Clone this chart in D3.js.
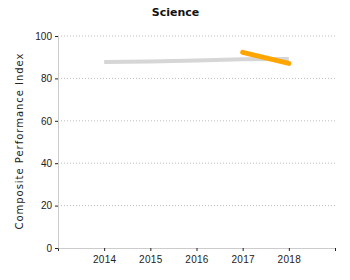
<!doctype html>
<html lang="en">
<head>
  <meta charset="utf-8">
  <title>Science</title>
  <style>
    body { margin: 0; background: #fff; }
    svg { font-family: "DejaVu Sans", Verdana, sans-serif; }
    .grid line { stroke: #bbb; stroke-dasharray: 1,2; }
    .axis path { stroke: #ccc; }
    .axis line { stroke: #222; }
    .axis text { fill: #222; font-size: 10px; }
  </style>
</head>
<body>
  <div id="chart"></div>
  <script src="https://cdn.jsdelivr.net/npm/d3@7"></script>
  <script>
(function(){

  var years = [2014, 2015, 2016, 2017, 2018];
  var schoolValues = [87.7, 88.0, 88.5, 89.0, 89.2];
  var subgroupYears = [2017, 2018];
  var subgroupValues = [92.3, 87.1];
  var yTicks = [0, 20, 40, 60, 80, 100];

  var width = 350, height = 280;
  var margin = {top: 36, right: 15, bottom: 32, left: 58};

  var svg = d3.select("#chart")
      .append("svg")
      .attr("width", width)
      .attr("height", height);

  var x = d3.scaleLinear().domain([2013, 2019]).range([margin.left, width - margin.right]);
  var y = d3.scaleLinear().domain([0, 100]).range([height - margin.bottom, margin.top]);

  svg.append("g")
      .attr("class", "grid")
      .selectAll("line")
      .data(yTicks.slice(1))
      .enter().append("line")
      .attr("x1", margin.left)
      .attr("x2", width - margin.right)
      .attr("y1", function(d) { return y(d); })
      .attr("y2", function(d) { return y(d); });

  svg.append("g")
      .attr("class", "axis")
      .attr("transform", "translate(0," + y(0) + ")")
      .call(d3.axisBottom(x)
        .tickValues([2013].concat(years, [2019]))
        .tickSize(3)
        .tickSizeOuter(0)
        .tickFormat(function(d) { return years.indexOf(d) >= 0 ? d : ""; }))
      .call(function(g) { g.selectAll("text").attr("dy", "0.9em").attr("letter-spacing", "0.3px"); });

  svg.append("g")
      .attr("class", "axis")
      .attr("transform", "translate(" + margin.left + ",0)")
      .call(d3.axisLeft(y).tickValues(yTicks).tickSize(3).tickSizeOuter(0));

  var line = d3.line()
      .x(function(d) { return x(d[0]); })
      .y(function(d) { return y(d[1]); });

  svg.append("path")
      .datum(d3.zip(years, schoolValues))
      .attr("fill", "none")
      .attr("stroke", "#d6d6d6")
      .attr("stroke-width", 4)
      .attr("d", line);

  svg.append("path")
      .datum(d3.zip(subgroupYears, subgroupValues))
      .attr("fill", "none")
      .attr("stroke", "#ffa500")
      .attr("stroke-width", 5)
      .attr("stroke-linecap", "round")
      .attr("d", line);

  svg.append("text")
      .attr("x", 175.5)
      .attr("y", 16)
      .attr("text-anchor", "middle")
      .attr("font-size", "11px")
      .attr("font-weight", "bold")
      .attr("fill", "#111")
      .text("Science");

  svg.append("text")
      .attr("transform", "translate(23,141.5) rotate(-90)")
      .attr("text-anchor", "middle")
      .attr("font-size", "10px")
      .attr("fill", "#222")
      .attr("textLength", 176)
      .attr("lengthAdjust", "spacing")
      .text("Composite Performance Index");

})();
  </script>
</body>
</html>
